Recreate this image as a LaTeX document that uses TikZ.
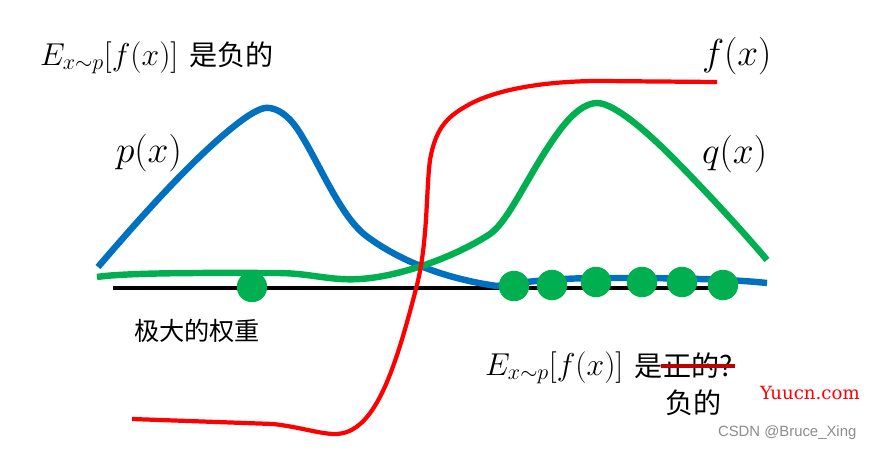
\documentclass[tikz,border=0pt]{standalone}
\usepackage{fix-cm}
\usepackage{fontspec}
\usepackage{xcolor}
\usetikzlibrary{positioning}
\newfontfamily\cjk{Noto Sans CJK SC}
\newfontfamily\wmsans{Liberation Sans}
\newfontfamily\siteserif{DejaVu Serif}
\definecolor{curveblue}{HTML}{0070C0}
\definecolor{curvegreen}{HTML}{00B050}
\definecolor{strikered}{HTML}{C00000}
\begin{document}
\begin{tikzpicture}[x=0.03cm, y=-0.03cm,
	every node/.style={inner sep=0pt, outer sep=0pt},
	sample/.style={circle, fill=curvegreen, minimum size=26pt},
	formula/.style={anchor=base west, font=\fontsize{27}{31}\selectfont},
	funclabel/.style={anchor=base west, font=\fontsize{32}{36}\selectfont},
	hanzi/.style={anchor=base west, font=\fontsize{24}{28}\selectfont\cjk}]
	\useasboundingbox (0,0) rectangle (871,449);

	% axis and curves
	\coordinate (axisl) at (113,288);
	\coordinate (axisr) at (735,288);
	\draw[line width=3pt] (axisl) -- (axisr);
	\draw[curveblue, line width=5.5pt] (98,267) .. controls (140,218) and (200,150) .. (245,118) .. controls (258,109) and (265,107) .. (270,108) .. controls (282,110) and (292,120) .. (300,133) .. controls (320,165) and (340,215) .. (365,235) .. controls (395,258) and (440,278) .. (497,286) .. controls (520,282) and (560,278) .. (600,278) .. controls (650,278) and (720,278) .. (767,283);
	\draw[curvegreen, line width=5.5pt] (97,277) .. controls (130,272) and (230,273) .. (277,273) .. controls (310,273) and (330,281) .. (360,279) .. controls (395,277) and (450,260) .. (490,234) .. controls (510,220) and (530,170) .. (560,130) .. controls (572,114) and (585,103) .. (597,103) .. controls (615,103) and (650,135) .. (670,155) .. controls (700,185) and (740,228) .. (767,260);
	\draw[red, line width=3.6pt] (132,419) -- (273,424) .. controls (300,427) and (320,434) .. (335,434) .. controls (375,434) and (395,370) .. (417,285) .. controls (428,240) and (426,190) .. (430,160) .. controls (436,125) and (450,115) .. (470,104) .. controls (500,88) and (550,81) .. (600,81) -- (717,82);

	% samples
	\node[sample] (big) at (252,287) {};
	\foreach \name/\px/\py in {a/514/286, b/552/285, c/596/282, d/642/282, e/682/282, f/723/285}
		\node[sample] (\name) at (\px,\py) {};

	% labels
	\node[formula] (topmath) at (40,65) {$E_{x\sim p}[f(x)]$};
	\node[hanzi] (toptext) at (189,65) {是负的};
	\node[funclabel] (plabel) at (116,162) {$p(x)$};
	\node[funclabel] (flabel) at (702,65) {$f(x)$};
	\node[funclabel] (qlabel) at (702,163) {$q(x)$};
	\node[hanzi, font=\fontsize{21.5}{26}\selectfont\cjk] (weight) at (134,340) {极大的权重};
	\node[formula] (lowmath) at (485,375) {$E_{x\sim p}[f(x)]$};
	\node[hanzi] (lowis) at (634,376) {是};
	\node[hanzi] (lowpos) at (663,376) {正的?};
	\node[hanzi] (lowneg) at (665,413) {负的};
	\coordinate (strikel) at (661,366);
	\coordinate (striker) at (735,366);
	\draw[strikered, line width=3pt] (strikel) -- (striker);

	% watermark
	\node[anchor=base west, text=red, font=\fontsize{15.5}{18}\selectfont\siteserif] (site) at (760,399) {Yuucn.com};
	\node[anchor=base west, text=black!45, font=\fontsize{12.7}{15}\selectfont\wmsans] (csdn) at (718,436) {CSDN @Bruce\_Xing};
\end{tikzpicture}
\end{document}
